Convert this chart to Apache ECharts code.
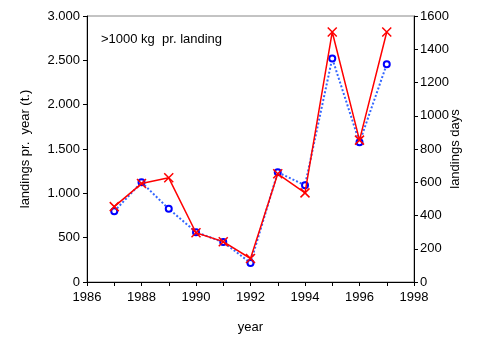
<!DOCTYPE html>
<html>
<head>
<meta charset="utf-8">
<script src="https://cdn.jsdelivr.net/npm/echarts@6/dist/echarts.min.js"></script>
<style>
  html, body { margin: 0; padding: 0; background: #fff; }
  #chart { width: 490px; height: 343px; }
</style>
</head>
<body>
<div id="chart"></div>
<script>
// years on the x axis
const years = [1987, 1988, 1989, 1990, 1991, 1992, 1993, 1994, 1995, 1996, 1997];
// landings per year in tonnes (left axis, red crosses)
const landingsTonnes = [850, 1110, 1175, 555, 455, 265, 1220, 1005, 2820, 1600, 2820];
// landing days (right axis, blue circles)
const landingDays = [425, 600, 440, 300, 240, 115, 660, 582, 1345, 840, 1310];

const font = "Liberation Sans, Arial, sans-serif";

function dotThousands(v) {
  if (v >= 1000) {
    const s = String(v);
    return s.slice(0, s.length - 3) + "." + s.slice(s.length - 3);
  }
  return String(v);
}

const chart = echarts.init(document.getElementById("chart"));
chart.setOption({
  animation: false,
  backgroundColor: "#fff",
  textStyle: { fontFamily: font },
  grid: {
    left: 87, right: 76, top: 16, bottom: 61,
    show: true, borderColor: "#888", borderWidth: 1
  },
  graphic: [{
    type: "text", left: 101, top: 33,
    style: { text: ">1000 kg  pr. landing", font: "13px " + font, fill: "#000" }
  }],
  xAxis: {
    type: "value", min: 1986, max: 1998, interval: 2,
    name: "year", nameLocation: "middle", nameGap: 39,
    nameTextStyle: { fontSize: 13, color: "#000" },
    axisLine: { lineStyle: { color: "#000" } },
    axisTick: { length: 4, lineStyle: { color: "#000" } },
    minorTick: { show: true, splitNumber: 2, length: 4, lineStyle: { color: "#000" } },
    axisLabel: { fontSize: 13, color: "#000", margin: 9, formatter: (v) => String(v) },
    splitLine: { show: false }
  },
  yAxis: [{
    type: "value", min: 0, max: 3000, interval: 500,
    name: "landings pr.  year (t.)", nameLocation: "middle", nameGap: 55, nameRotate: 90,
    nameTextStyle: { fontSize: 13, color: "#000" },
    axisLine: { show: true, lineStyle: { color: "#000" } },
    axisTick: { show: true, length: 4, lineStyle: { color: "#000" } },
    axisLabel: { fontSize: 13, color: "#000", margin: 7, formatter: dotThousands },
    splitLine: { show: false }
  }, {
    type: "value", min: 0, max: 1600, interval: 200, position: "right",
    name: "landings days", nameLocation: "middle", nameGap: 35, nameRotate: 90,
    nameMoveOverlap: false,
    nameTextStyle: { fontSize: 13, color: "#000" },
    axisLine: { show: true, lineStyle: { color: "#000" } },
    axisTick: { show: true, length: 4, lineStyle: { color: "#000" } },
    axisLabel: { fontSize: 13, color: "#000", margin: 6, formatter: (v) => String(v) },
    splitLine: { show: false }
  }],
  series: [{
    type: "line", yAxisIndex: 1, z: 2,
    data: years.map((y, i) => [y, landingDays[i]]),
    lineStyle: { color: "#3366ff", width: 2, type: "dotted" },
    symbol: "emptyCircle", symbolSize: 6,
    itemStyle: { color: "#0000ff", borderColor: "#0000ff", borderWidth: 1.5 }
  }, {
    type: "line", yAxisIndex: 0, z: 3,
    data: years.map((y, i) => [y, landingsTonnes[i]]),
    lineStyle: { color: "#ff0000", width: 1.5 },
    symbol: "path://M0,0L10,10M10,0L0,10", symbolSize: 9,
    itemStyle: { color: "none", borderColor: "#ff0000", borderWidth: 1.5 }
  }]
});
</script>
</body>
</html>
